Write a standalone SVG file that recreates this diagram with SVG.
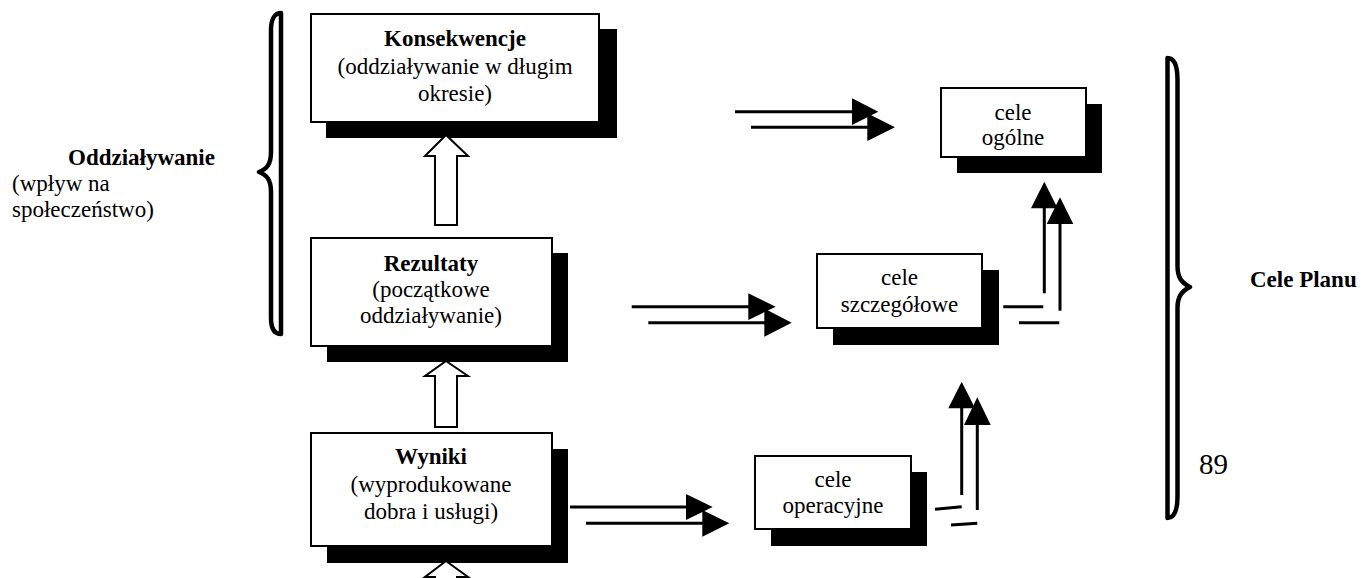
<svg xmlns="http://www.w3.org/2000/svg" width="1361" height="578" viewBox="0 0 1361 578">
<style>
text{font-family:"Liberation Serif","Times New Roman",serif;font-size:23px;fill:#000}
.b{font-weight:bold}
.c{text-anchor:middle}
.box{fill:#fff;stroke:#000;stroke-width:2}
.sh{fill:#000}
.blk{fill:#fff;stroke:#000;stroke-width:2;stroke-linejoin:miter}
.ln{stroke:#000;stroke-width:3;fill:none}
.hd{fill:#000}
.brace{fill:#fff;stroke:#000;stroke-width:4.5;stroke-linejoin:round}
</style>
<rect width="1361" height="578" fill="#fff"/>

<g id="brace-left">
<path class="brace" d="M281,13 C275,13 271,19 271,30 L271,152 C271,164 267,169 259,172 C267,175 271,180 271,192 L271,318 C271,329 275,334 281,334 Z"/>
</g>
<g id="label-oddzialywanie">
<text class="b" x="68" y="165">Oddziaływanie</text>
<text x="12" y="191">(wpływ na</text>
<text x="12" y="217">społeczeństwo)</text>
</g>

<g id="node-konsekwencje">
<rect class="sh" x="326" y="29" width="291" height="109"/>
<rect class="box" x="311" y="14" width="288" height="108"/>
<text class="b c" x="455" y="46">Konsekwencje</text>
<text class="c" x="455" y="74">(oddziaływanie w długim</text>
<text class="c" x="455" y="101">okresie)</text>
</g>

<g id="node-rezultaty">
<rect class="sh" x="327" y="253" width="241" height="109"/>
<rect class="box" x="311" y="238" width="241" height="108"/>
<text class="b c" x="431" y="271">Rezultaty</text>
<text class="c" x="431" y="297">(początkowe</text>
<text class="c" x="431" y="323">oddziaływanie)</text>
</g>

<g id="node-wyniki">
<rect class="sh" x="327" y="449" width="241" height="114"/>
<rect class="box" x="311" y="433" width="241" height="113"/>
<text class="b c" x="431" y="464">Wyniki</text>
<text class="c" x="431" y="492">(wyprodukowane</text>
<text class="c" x="431" y="519">dobra i usługi)</text>
</g>

<g id="node-cele-ogolne">
<rect class="sh" x="957" y="104" width="145" height="69"/>
<rect class="box" x="941" y="88" width="145" height="69"/>
<text class="c" x="1013" y="120">cele</text>
<text class="c" x="1013" y="145">ogólne</text>
</g>

<g id="node-cele-szczegolowe">
<rect class="sh" x="833" y="270" width="166" height="75"/>
<rect class="box" x="817" y="254" width="165" height="74"/>
<text class="c" x="899.5" y="285">cele</text>
<text class="c" x="899.5" y="312">szczegółowe</text>
</g>

<g id="node-cele-operacyjne">
<rect class="sh" x="771" y="472" width="156" height="74"/>
<rect class="box" x="755" y="456" width="156" height="73"/>
<text class="c" x="833" y="487">cele</text>
<text class="c" x="833" y="513">operacyjne</text>
</g>

<g id="brace-right">
<path class="brace" d="M1167.5,58 C1174,58 1177.5,65 1177.5,80 L1177.5,266 C1177.5,278 1182,283 1190,287 C1182,291 1177.5,296 1177.5,308 L1177.5,496 C1177.5,511 1174,518 1167.5,518 Z"/>
</g>
<g id="label-cele-planu">
<text class="b" x="1250" y="287">Cele Planu</text>
</g>
<g id="page-number">
<text x="1199" y="474" style="font-size:29px">89</text>
</g>

<g id="connectors">
<polygon class="blk" points="446,135 468,156 457,156 457,225 435,225 435,156 425,156"/>
<polygon class="blk" points="446,361 468,376 457,376 457,427 435,427 435,376 425,376"/>
<polygon class="blk" points="446,561 468,577 457,577 457,600 435,600 435,577 425,577"/>

<line class="ln" x1="735" y1="111.7" x2="853" y2="111.7"/>
<polygon class="hd" points="852,98.3 878.3,111.7 852,125"/>
<line class="ln" x1="751" y1="127.3" x2="868" y2="127.3"/>
<polygon class="hd" points="867.3,113.3 895,127.3 867.3,141"/>

<line class="ln" x1="631.7" y1="306.7" x2="749" y2="306.7"/>
<polygon class="hd" points="748.3,293.3 775.7,306.7 748.3,320"/>
<line class="ln" x1="648.3" y1="322.7" x2="765" y2="322.7"/>
<polygon class="hd" points="764.3,308.5 791.7,322.7 764.3,336.7"/>

<line class="ln" x1="570" y1="507" x2="687" y2="507"/>
<polygon class="hd" points="686,494 712.7,507 686,520"/>
<line class="ln" x1="586" y1="523.3" x2="703" y2="523.3"/>
<polygon class="hd" points="702.3,510 729.3,523.3 702.3,536.7"/>

<line class="ln" x1="1044.3" y1="293.3" x2="1044.3" y2="207.5"/>
<polygon class="hd" points="1031,208.3 1044.3,181.7 1057.6,208.3"/>
<line class="ln" x1="1060" y1="310.7" x2="1060" y2="223"/>
<polygon class="hd" points="1046.7,224 1060,197.3 1073.3,224"/>
<line class="ln" x1="1003.3" y1="306.7" x2="1043.3" y2="306.7"/>
<line class="ln" x1="1019" y1="322.7" x2="1059.3" y2="322.7"/>

<line class="ln" x1="961.7" y1="495" x2="961.7" y2="407.5"/>
<polygon class="hd" points="948.3,408.3 961.7,381.7 975,408.3"/>
<line class="ln" x1="977.3" y1="510" x2="977.3" y2="424"/>
<polygon class="hd" points="964,425 977.3,397.3 990.7,425"/>
<line class="ln" x1="935" y1="509.3" x2="961.7" y2="506.7"/>
<line class="ln" x1="951" y1="525" x2="977.3" y2="523.3"/>
</g>
</svg>
